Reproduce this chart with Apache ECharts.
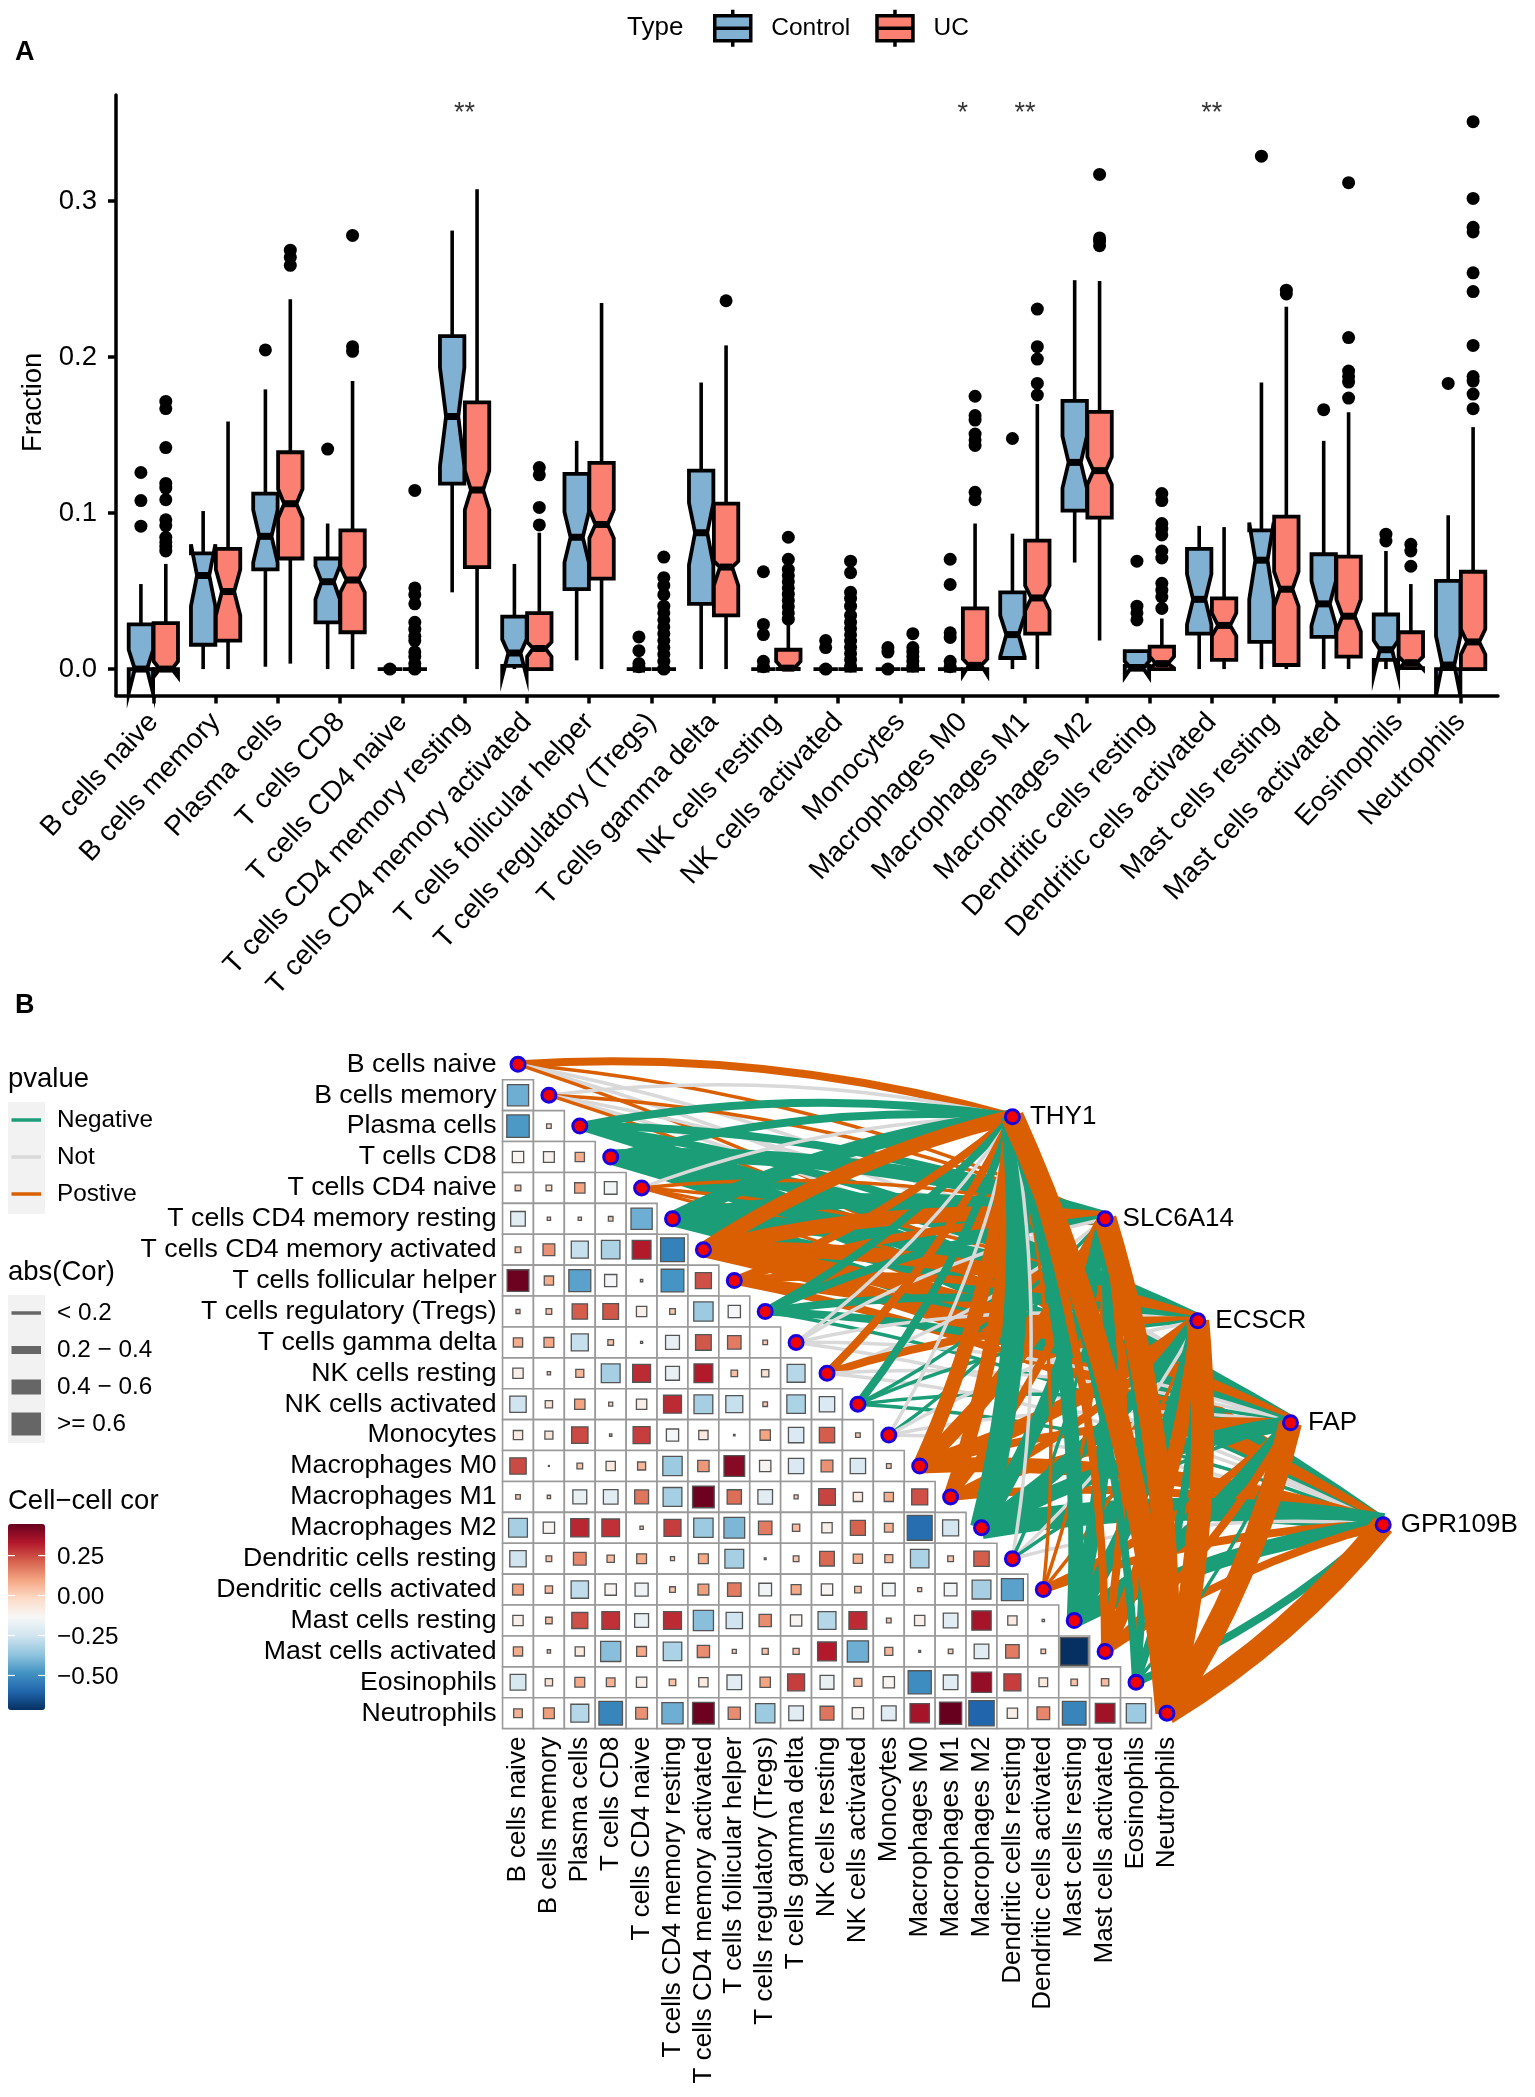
<!DOCTYPE html>
<html><head><meta charset="utf-8">
<style>html,body{margin:0;padding:0;background:#fff}#c{width:1535px;height:2097px}</style>
<script src="https://cdn.jsdelivr.net/npm/echarts@6/dist/echarts.min.js"></script>
</head><body><div id="c"></div>
<script>
const categories = ["B cells naive","B cells memory","Plasma cells","T cells CD8","T cells CD4 naive","T cells CD4 memory resting","T cells CD4 memory activated","T cells follicular helper","T cells regulatory (Tregs)","T cells gamma delta","NK cells resting","NK cells activated","Monocytes","Macrophages M0","Macrophages M1","Macrophages M2","Dendritic cells resting","Dendritic cells activated","Mast cells resting","Mast cells activated","Eosinophils","Neutrophils"];
const yTicks = [0,0.1,0.2,0.3];
// each box: whisker low, q1, notch low, median, notch high, q3, whisker high
const boxControl = [
[0,0,-.0156,0,.0124,.0286,.0545],[0,.0156,.0403,.06,.08,.0742,.1013],[.0015,.0639,.0683,.0851,.1021,.1125,.1793],[0,.03,.0447,.056,.0662,.0709,.0933],
[0,0,0,0,0,0,0],[.0492,.1189,.1301,.1619,.1934,.2134,.2811],[0,.002,-.005,.0103,.0191,.0336,.0674],[.0056,.0512,.0683,.0845,.1007,.1251,.1463],
[0,0,0,0,0,0,0],[0,.0418,.0668,.0874,.1066,.1272,.1837],[0,0,0,0,0,0,0],[0,0,0,0,0,0,0],[0,0,0,0,0,0,0],[0,0,0,0,0,0,0],
[0,.0071,.008,.0221,.0344,.0492,.0868],[.0683,.1016,.116,.1325,.1493,.1719,.2493],[0,.002,-.005,.0006,.005,.0115,.0115],[0,.0227,.0286,.0447,.0609,.0771,.0918],
[0,.0174,.0447,.0698,.0939,.0889,.1837],[0,.0206,.028,.0418,.0565,.0736,.1463],[0,.0059,-.004,.0124,.0183,.035,.0757],[0,0,-.017,.0026,.0212,.0565,.0986]];
const boxUC = [
[0,0,-.005,0,.005,.0294,.0674],[0,.0183,.0344,.0497,.0639,.0771,.1587],[.0035,.0709,.0968,.106,.1154,.139,.237],[0,.0236,.0492,.0571,.0654,.0889,.1846],
[0,0,0,0,0,0,0],[0,.0654,.1021,.1148,.1272,.171,.3076],[0,0,.008,.0132,.0174,.0359,.0874],[0,.058,.0839,.0927,.1021,.1322,.2346],
[0,0,0,0,0,0,0],[0,.0344,.0536,.0654,.0692,.106,.2075],[0,0,0,.0006,.005,.0124,.0286],[0,0,0,0,0,0,0],[0,0,0,0,0,0,0],[0,0,-.0038,.0024,.0065,.0389,.0933],
[0,.0227,.0374,.0456,.0536,.0824,.1699],[.0183,.0971,.1183,.1272,.136,.1649,.2488],[0,0,.0006,.0035,.008,.0144,.0324],[0,.0059,.0212,.028,.0359,.0453,.091],
[0,.0026,.0403,.0512,.0624,.0977,.2323],[0,.008,.0241,.0339,.0447,.0721,.1646],[0,.0006,0,.0041,.008,.0236,.0545],[0,0,.0094,.0174,.0256,.0624,.1551]];
const outlierControl = [[.126,.108,.0916],[],[.2046],[.141],[0],[],[],[],[.0206,.0118,.0035,.0015],[],[.0624,.0286,.0221,.005,.0015],[.0183,.0138,0],[.0138,.0109,0],[.0704,.0542,.0233,.0203,.005,.0015],[.1478],[],[.0692,.0403,.036,.0315],[],[.3288],[.1663],[.0865,.0821],[.1831]];
const outlierUC = [[.1716,.167,.142,.119,.116,.1086,.0957,.092,.0845,.0815,.0786,.0757],[],[.2685,.264,.2588],[.278,.2067,.2037],[.1145,.052,.0477,.0418,.03,.0256,.021,.0183,.011,.008,.0035,0],[],[.1292,.1245,.1036,.0924],[],[.0718,.0586,.0536,.0477,.0403,.036,.0315,.027,.0227,.0183,.0138,.0094,.005,0],[.2361],[.0845,.0704,.0639,.06,.056,.052,.048,.044,.04,.036,.032],[.0692,.0618,.0492,.0453,.0403,.0344,.03,.026,.022,.018,.014,.01,.006,.002],[.0227,.0138,.0109,.008,.005,.002],[.1749,.1625,.1596,.1507,.1469,.1434,.1133,.1086],[.2308,.2067,.1987,.1831,.1757],[.3171,.2764,.2744,.2714],[.1125,.108,.0933,.0898,.086,.0757,.0712,.055,.0506,.0462,.0389],[],[.2429,.2405],[.3118,.2125,.191,.1875,.184,.1737],[.08,.0757,.0659],[.3509,.3017,.2832,.2802,.254,.242,.2075,.1875,.1846,.1763,.1669]];
const significance = ["","","","","","**","","","","","","","","*","**","","","**","","","",""];

// lower triangle of the cell-cell correlation matrix, row 2 onward
const corrRows = [
[-.42],
[-.47,-.02],
[-.12,-.11,.08],
[.03,-.03,.1,-.15],
[-.2,-.01,.01,.02,-.42],
[.03,.13,-.27,-.32,.33,-.53],
[.44,.08,-.45,-.14,.005,-.48,.24],
[.015,.03,.22,.23,-.1,.03,-.35,-.14],
[.08,.09,-.27,.03,.004,-.18,.23,.17,.02],
[-.1,.01,.06,-.33,.3,-.18,.33,.04,-.05,-.3],
[-.25,-.05,.1,.015,-.1,.3,-.33,-.27,.02,-.32,-.22],
[-.08,-.06,.25,.005,.27,-.14,-.08,.002,.1,-.22,.22,.02],
[.25,.0008,.03,-.08,.06,-.35,.12,.4,-.12,-.22,.13,-.22,.02],
[.02,.01,-.18,-.2,.18,-.33,.44,.19,-.2,.015,.26,-.08,.08,.24],
[-.33,-.12,.31,.29,.01,.27,-.35,-.4,.17,.05,-.1,.21,.07,-.58,-.24],
[-.25,.03,.15,.05,.09,.015,.09,-.33,.003,.03,.2,.08,.06,-.32,.03,.22],
[.11,.05,-.28,-.12,-.16,.03,.11,.17,-.15,.09,-.12,.04,-.15,.015,-.15,-.33,-.45],
[-.1,.04,.24,.29,-.18,.3,-.38,-.25,.14,-.12,-.3,.3,.02,-.1,-.2,.35,-.08,.005],
[.08,.01,-.08,-.38,.09,-.32,.14,.015,.035,.035,.33,-.42,.06,.003,.02,-.2,.17,.02,-.716],
[-.23,-.05,.09,.07,-.1,.04,-.08,-.2,.1,.27,-.18,.06,-.12,-.5,-.2,.38,.27,-.07,.04,.05],
[.07,.11,-.3,-.52,.13,-.42,.44,.14,-.35,-.2,.18,-.12,-.2,.35,.46,-.6,-.1,.15,-.52,.36,-.35]];

const genes = ["THY1","SLC6A14","ECSCR","FAP","GPR109B"];
const geneX = [16,19,22,25,28];
const geneY = [1.7,5,8.3,11.6,14.9];
// link class per cell type: sign = direction, 1-4 = abs(Cor) bin, 0 = not significant
const linkTHY1    = [2,0,-2,-2,0,-3,3,2,-2,0,2,-2,0,3,3,-4,0,1,-3,2,-2,4];
const linkSLC6A14 = [1,1,-2,-3,1,-3,3,2,-2,0,0,-1,-1,3,2,-3,-1,1,-3,2,-2,4];
const linkECSCR   = [0,0,-2,-3,1,-3,3,2,-2,0,2,-1,0,3,2,-3,0,1,-3,3,-2,4];
const linkFAP     = [0,0,-2,-3,1,-2,3,2,-2,0,0,-1,0,2,2,-3,-1,2,-3,2,-1,4];
const linkGPR109B = [1,1,-2,-3,1,-3,3,2,-1,0,0,-1,0,3,2,-4,0,2,-3,2,-2,4];
const geneLinks = [linkTHY1,linkSLC6A14,linkECSCR,linkFAP,linkGPR109B];

const FONT = '"Liberation Sans", Arial, sans-serif';
const BLUE = '#80B1D3', RED = '#FB8072';
const NEG = '#1B9E77', NOTSIG = '#D9D9D9', POS = '#D95F02';
const LINK_W = [3.5,3.5,8,15,23];
const CORR_MIN = -.716, CORR_MAX = .4475;
const DODGE = .2, HALF = .196;

function boxSeries(name, color, rows, sign){
  return {
    type:'custom', name, xAxisIndex:0, yAxisIndex:0, clip:false, z:3,
    itemStyle:{color},
    data: rows.map((r,i)=>[i+1+sign*DODGE].concat(r)),
    encode:{x:0,y:[1,7]},
    renderItem(p,api){
      const x=api.value(0), v=k=>api.value(k);
      const [wl,q1,nl,md,nu,q3,wh]=[1,2,3,4,5,6,7].map(v);
      const P=(a,b)=>api.coord([a,b]);
      const L=x-HALF,R=x+HALF,li=x-HALF/2,ri=x+HALF/2;
      const line=(a,b,w)=>({type:'line',shape:{x1:a[0],y1:a[1],x2:b[0],y2:b[1]},style:{stroke:'#000',lineWidth:w}});
      return {type:'group',children:[
        line(P(x,wh),P(x,q3),3.6), line(P(x,q1),P(x,wl),3.6),
        {type:'polygon',shape:{points:[P(L,q3),P(L,nu),P(li,md),P(L,nl),P(L,q1),P(R,q1),P(R,nl),P(ri,md),P(R,nu),P(R,q3)]},
         style:{fill:color,stroke:'#000',lineWidth:3.8,lineJoin:'miter'}},
        line(P(li,md),P(ri,md),7)
      ]};
    }
  };
}
function outlierSeries(name, rows, sign){
  const data=[];
  rows.forEach((vals,i)=>vals.forEach(v=>data.push([i+1+sign*DODGE,v])));
  return {type:'scatter',name,xAxisIndex:0,yAxisIndex:0,symbolSize:13,itemStyle:{color:'#000',opacity:1},data,z:2,clip:false};
}

// matrix cells
const cellData=[];
corrRows.forEach((row,r)=>row.forEach((v,c)=>cellData.push([c,r+1,v])));

// links
const linkData=[];
categories.forEach((name,i)=>{
  geneLinks.forEach((arr,g)=>{
    const k=arr[i], dx=geneX[g]-i, dy=geneY[g]-i;
    const curv=(-dy-.5*dx>0)?-.085:.085;
    linkData.push({coords:[[i,i],[geneX[g],geneY[g]]],
      lineStyle:{color:k===0?NOTSIG:(k<0?NEG:POS),width:LINK_W[Math.abs(k)],curveness:curv,opacity:1}});
  });
});

const dia=categories.map((n,i)=>[i,i]);
const geneNodes=genes.map((g,i)=>({name:g,value:[geneX[i],geneY[i]]}));

const ICON='path://M0 6H36V31H0Z M0 18.5H36 M18 0V6 M18 31V37';
const chart=echarts.init(document.getElementById('c'),null,{renderer:'canvas',width:1535,height:2097});

const tx=(text,x,y,size,extra)=>Object.assign({type:'text',x,y,silent:true,z:20,
  style:Object.assign({text,fontFamily:FONT,fontSize:size,fill:'#000',textVerticalAlign:'middle',verticalAlign:'middle'},extra||{})});
const rc=(x,y,w,h,f)=>({type:'rect',shape:{x,y,width:w,height:h},style:{fill:f},silent:true,z:10});
const ln=(x1,y,x2,w,c)=>({type:'line',shape:{x1,y1:y,x2,y2:y},style:{stroke:c,lineWidth:w},silent:true,z:15});
const CB_TOP=1524, CB_H=186;
const cbY=v=>CB_TOP+(CORR_MAX-v)/(CORR_MAX-CORR_MIN)*CB_H;
const cbTicks=[.25,0,-.25,-.5], cbText=['0.25','0.00','\u22120.25','\u22120.50'];

const graphic=[
  tx('A',15,53,27,{fontWeight:'bold'}), tx('B',15,1006,27,{fontWeight:'bold'}),
  tx('Type',627,28,26),
  tx('pvalue',8,1079.5,27.5), rc(8,1102,37,112,'#F2F2F2'),
  ln(11.5,1120,41,3.5,NEG),ln(11.5,1157,41,3.5,NOTSIG),ln(11.5,1194,41,3.5,POS),
  tx('Negative',57,1120.5,24.3),tx('Not',57,1157.5,24.3),tx('Postive',57,1194.5,24.3),
  tx('abs(Cor)',8,1272.5,27.5), rc(8,1295,37,148,'#F2F2F2'),
  ln(11.5,1313,41,3.5,'#666'),ln(11.5,1350,41,8,'#666'),ln(11.5,1387,41,15,'#666'),ln(11.5,1424,41,23,'#666'),
  tx('< 0.2',57,1313.5,24.3),tx('0.2 \u2212 0.4',57,1350.5,24.3),tx('0.4 \u2212 0.6',57,1387.5,24.3),tx('>= 0.6',57,1424.5,24.3),
  tx('Cell\u2212cell cor',8,1501.5,27.5)
];
cbTicks.forEach((v,i)=>{
  graphic.push(ln(8,cbY(v),15,1.2,'#fff'),ln(38,cbY(v),45,1.2,'#fff'),tx(cbText[i],57,cbY(v)+2,24.3));
});

chart.setOption({
  animation:false, backgroundColor:'#fff', textStyle:{fontFamily:FONT},
  grid:[
    {left:116,top:95,width:1382,height:600.6},
    {left:502.55,top:1048.85,width:927,height:679.8}
  ],
  xAxis:[
    {gridIndex:0,type:'value',min:.4,max:22.6,splitLine:{show:false},
     axisLine:{lineStyle:{color:'#000',width:3.5},onZero:false},
     axisTick:{length:8,lineStyle:{color:'#000',width:3.5},customValues:categories.map((c,i)=>i+1)},
     axisLabel:{customValues:categories.map((c,i)=>i+1),rotate:47,margin:22,color:'#000',fontSize:28,fontFamily:FONT,formatter:v=>categories[v-1]}},
    {gridIndex:1,type:'value',min:-.5,max:29.5,splitLine:{show:false},axisLine:{show:false,onZero:false},axisTick:{show:false},
     axisLabel:{customValues:categories.map((c,i)=>i),rotate:90,margin:8,color:'#000',fontSize:26,fontFamily:FONT,formatter:v=>categories[v]}}
  ],
  yAxis:[
    {gridIndex:0,type:'value',min:-.017,max:.368,splitLine:{show:false},
     name:'Fraction',nameLocation:'middle',nameGap:67,nameTextStyle:{color:'#000',fontSize:27.5,fontFamily:FONT,padding:[0,14,0,0]},
     axisLine:{lineStyle:{color:'#000',width:3.5},onZero:false},
     axisTick:{length:8,lineStyle:{color:'#000',width:3.5},customValues:yTicks},
     axisLabel:{customValues:yTicks,margin:19,color:'#000',fontSize:27.5,fontFamily:FONT,formatter:v=>v.toFixed(1)}},
    {gridIndex:1,type:'value',inverse:true,min:-.5,max:21.5,splitLine:{show:false},axisLine:{show:false,onZero:false},axisTick:{show:false},
     axisLabel:{customValues:categories.map((c,i)=>i),margin:6,padding:[4,0,0,0],color:'#000',fontSize:26.7,fontFamily:FONT,formatter:v=>categories[v]}}
  ],
  legend:{left:708,top:3,itemWidth:37,itemHeight:37,itemGap:25,
    textStyle:{fontSize:24.5,fontFamily:FONT,color:'#000',padding:[0,0,0,15]},selectedMode:false,
    data:[
      {name:'Control',icon:ICON,itemStyle:{color:BLUE,borderColor:'#000',borderWidth:3.5}},
      {name:'UC',icon:ICON,itemStyle:{color:RED,borderColor:'#000',borderWidth:3.5}}
    ]},
  visualMap:{type:'continuous',seriesIndex:5,dimension:2,min:CORR_MIN,max:CORR_MAX,left:8,top:CB_TOP,itemWidth:37,itemHeight:CB_H,padding:0,
    calculable:false,realtime:false,hoverLink:false,showLabel:false,text:['',''],
    inRange:{color:["#053061","#2166AC","#4393C3","#92C5DE","#D1E5F0","#F7F7F7","#FDDBC7","#F4A582","#D6604D","#B2182B","#67001F"]}},
  graphic:{elements:graphic},
  series:[
    outlierSeries('Control outliers',outlierControl,-1),
    outlierSeries('UC outliers',outlierUC,1),
    boxSeries('Control',BLUE,boxControl,-1),
    boxSeries('UC',RED,boxUC,1),
    {type:'scatter',name:'significance',xAxisIndex:0,yAxisIndex:0,symbolSize:0,z:5,
     data:significance.map((s,i)=>({value:[i+1,.3563],label:{show:!!s,formatter:s}})),
     label:{show:true,position:'inside',color:'#000',fontSize:27,fontFamily:FONT}},
    {type:'custom',name:'Cell-cell cor',xAxisIndex:1,yAxisIndex:1,z:1,clip:false,data:cellData,encode:{x:0,y:1},
     renderItem(p,api){
       const c=api.coord([api.value(0),api.value(1)]),s=api.size([1,1])[0],v=api.value(2);
       const side=32.7*Math.sqrt(Math.abs(v));
       return {type:'group',children:[
         {type:'rect',shape:{x:c[0]-s/2,y:c[1]-s/2,width:s,height:s},style:{fill:'#fff',stroke:'#999',lineWidth:1.6}},
         {type:'rect',shape:{x:c[0]-side/2,y:c[1]-side/2,width:side,height:side},style:{fill:api.visual('color'),stroke:'#555',lineWidth:1.3}}
       ]};
     }},
    {type:'lines',name:'links',coordinateSystem:'cartesian2d',xAxisIndex:1,yAxisIndex:1,z:2,silent:true,polyline:false,
     lineStyle:{opacity:1},data:linkData},
    {type:'scatter',name:'cell nodes',xAxisIndex:1,yAxisIndex:1,z:4,symbolSize:14,data:dia,
     itemStyle:{color:'#F00000',borderColor:'#1A00E0',borderWidth:3,opacity:1}},
    {type:'scatter',name:'genes',xAxisIndex:1,yAxisIndex:1,z:4,symbolSize:14,data:geneNodes,
     itemStyle:{color:'#F00000',borderColor:'#1A00E0',borderWidth:3,opacity:1},
     label:{show:true,position:'right',distance:9,color:'#000',fontSize:26,fontFamily:FONT,formatter:d=>d.name}}
  ]
});
</script></body></html>
